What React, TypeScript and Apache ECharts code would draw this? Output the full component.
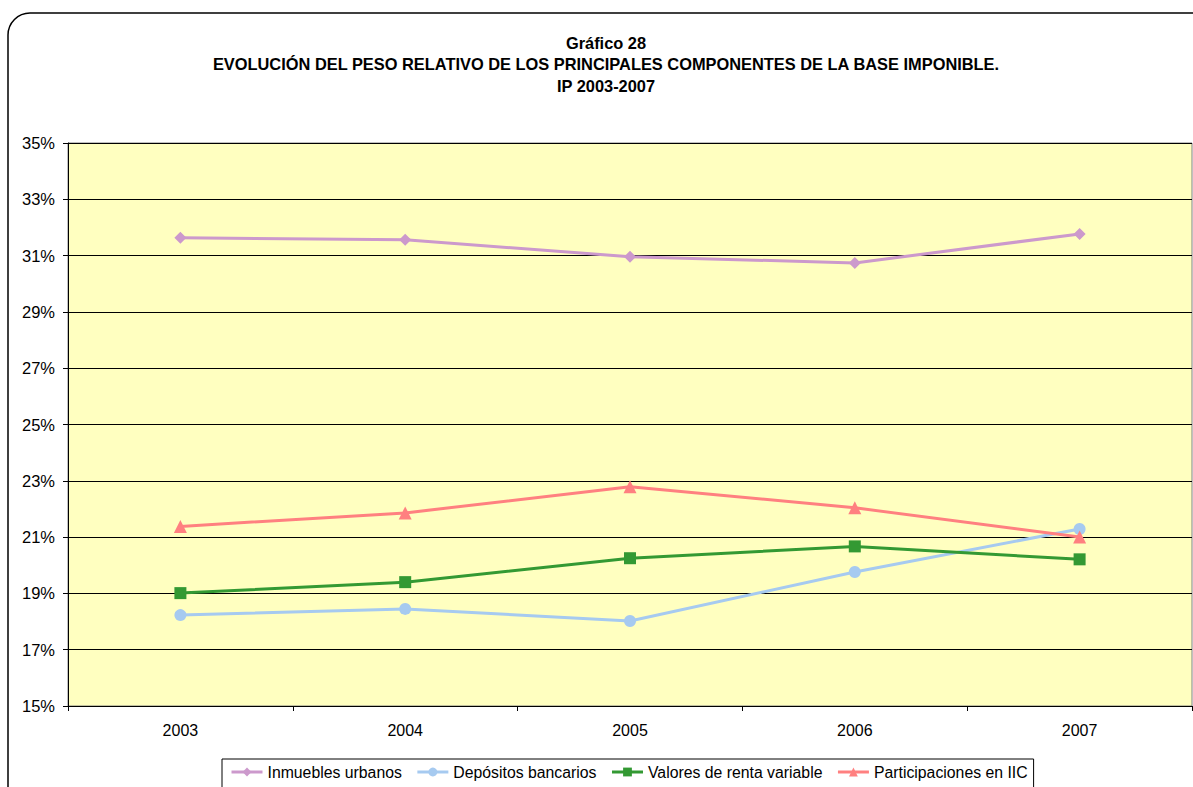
import React, { useEffect, useRef } from "react";
import * as echarts from "echarts";

const years = ["2003", "2004", "2005", "2006", "2007"];
const inmuebles = [31.63, 31.56, 30.96, 30.74, 31.77];
const depositos = [18.23, 18.45, 18.02, 19.76, 21.29];
const valores = [19.01, 19.4, 20.25, 20.67, 20.21];
const participaciones = [21.38, 21.86, 22.79, 22.04, 21.0];
const titleLines = [
  "Gráfico 28",
  "EVOLUCIÓN DEL PESO RELATIVO DE LOS PRINCIPALES COMPONENTES DE LA BASE IMPONIBLE.",
  "IP 2003-2007",
];

const FONT = "Arial, 'Liberation Sans', sans-serif";

export default function App() {
  const ref = useRef<HTMLDivElement>(null);
  useEffect(() => {
    const chart = echarts.init(ref.current!, null, { renderer: "svg" });
    const mk = (name: string, data: number[], color: string, symbol: string, size: number) => ({
      name,
      type: "line",
      data,
      symbol,
      symbolSize: size,
      lineStyle: { color, width: 3 },
      itemStyle: { color },
      emphasis: { disabled: true },
    });
    chart.setOption({
      animation: false,
      title: {
        text: titleLines.join("\n"),
        left: 606,
        textAlign: "center",
        top: 32,
        padding: 0,
        textStyle: { fontFamily: FONT, fontSize: 16.4, fontWeight: "bold", color: "#000", lineHeight: 21.5 },
      },
      graphic: [
        {
          type: "rect",
          z: -10,
          shape: { x: 8, y: 13, width: 1220, height: 820, r: 22 },
          style: { fill: "none", stroke: "#000", lineWidth: 1.5 },
        },
      ],
      grid: { left: 68, right: 1, top: 143, bottom: 81, show: true, backgroundColor: "#FFFFC0", borderColor: "#808080", borderWidth: 1 },
      xAxis: {
        type: "category",
        data: years,
        boundaryGap: true,
        axisLine: { lineStyle: { color: "#000", width: 1 } },
        axisTick: { show: true, length: 5, lineStyle: { color: "#000" } },
        axisLabel: { fontFamily: FONT, fontSize: 16, color: "#000", margin: 16 },
      },
      yAxis: {
        type: "value",
        min: 15,
        max: 35,
        interval: 2,
        axisLine: { show: true, lineStyle: { color: "#000", width: 1 } },
        axisTick: { show: true, length: 5, lineStyle: { color: "#000" } },
        axisLabel: { fontFamily: FONT, fontSize: 16.5, color: "#000", margin: 13, formatter: "{value}%" },
        splitLine: { show: true, lineStyle: { color: "#000", width: 1 } },
      },
      legend: {
        left: 222,
        top: 759,
        orient: "horizontal",
        itemWidth: 31,
        itemHeight: 11,
        itemGap: 14,
        padding: [5, 6, 8, 8],
        borderColor: "#000",
        borderWidth: 1,
        backgroundColor: "#fff",
        lineStyle: { width: 3 },
        textStyle: { fontFamily: FONT, fontSize: 15.8, color: "#000" },
        data: ["Inmuebles urbanos", "Depósitos bancarios", "Valores de renta variable", "Participaciones en IIC"],
      },
      series: [
        mk("Inmuebles urbanos", inmuebles, "#CC99CC", "diamond", 12),
        mk("Depósitos bancarios", depositos, "#A6CAF0", "circle", 12),
        mk("Valores de renta variable", valores, "#339933", "rect", 12),
        mk("Participaciones en IIC", participaciones, "#FF8080", "triangle", 13),
      ],
    });
    return () => chart.dispose();
  }, []);
  return (
    <div
      ref={ref}
      style={{ position: "absolute", left: 0, top: 0, width: 1193, height: 787, background: "#fff" }}
    />
  );
}
